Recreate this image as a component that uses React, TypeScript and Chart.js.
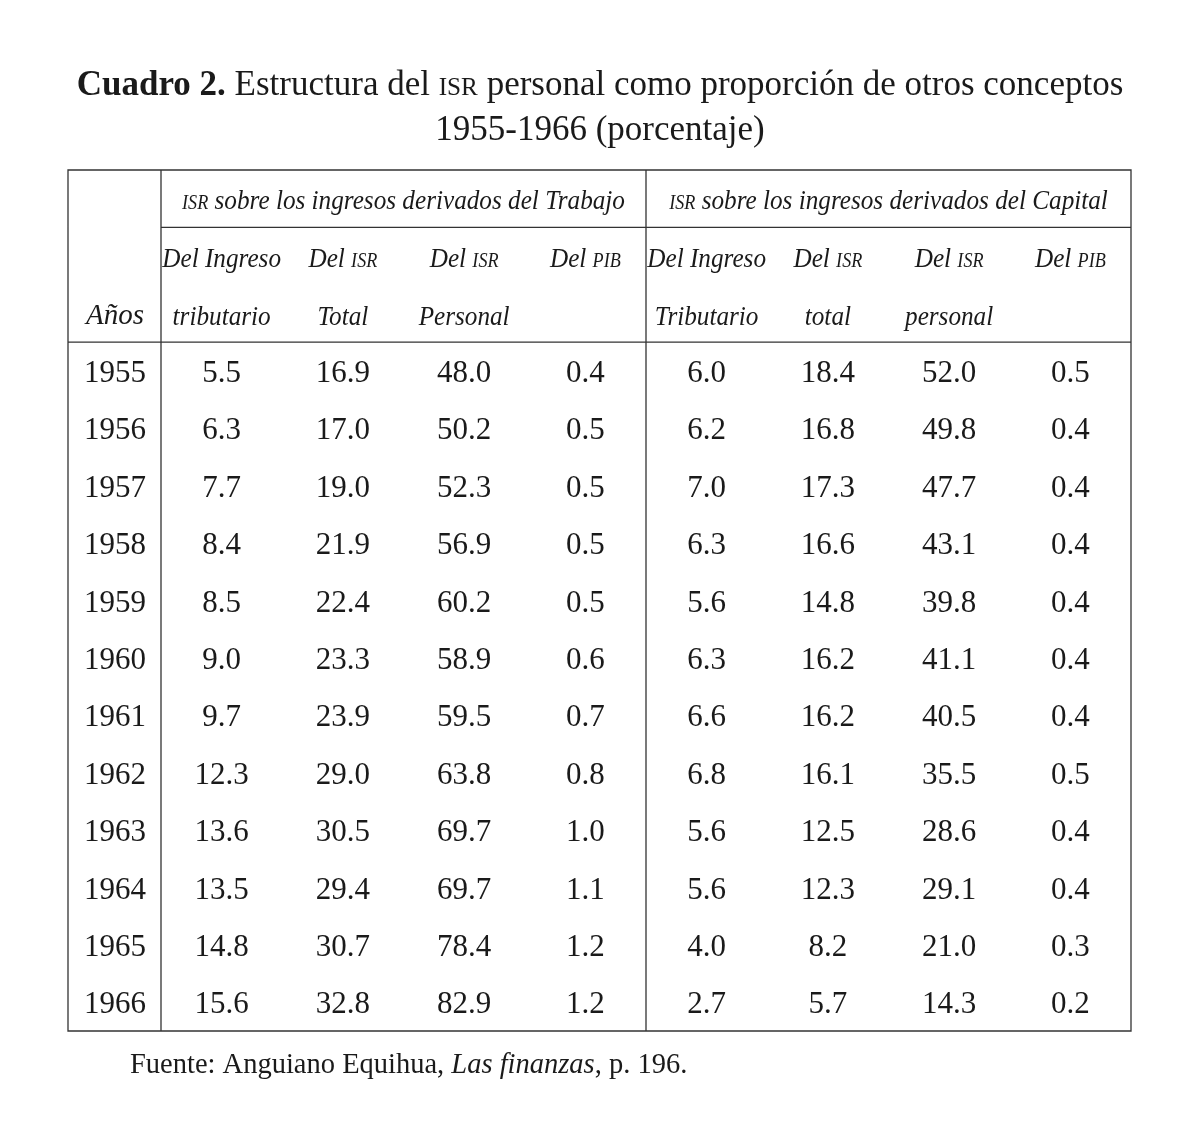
import { useEffect, useRef } from 'react';
import { Chart, registerables } from 'chart.js';

Chart.register(...registerables);

// ---------- data ----------
const YEARS = ['1955', '1956', '1957', '1958', '1959', '1960', '1961', '1962', '1963', '1964', '1965', '1966'];
const HEADER_ROWS = [' ', '  ', 'Años'];
const ROW_LABELS = [...HEADER_ROWS, ...YEARS];

const COLUMN_KEYS = ['t1', 't2', 't3', 't4', 'c1', 'c2', 'c3', 'c4'];

const GROUP_TITLES = ['ISR sobre los ingresos derivados del Trabajo', 'ISR sobre los ingresos derivados del Capital'];
const SUBHEAD_LINE1 = ['Del Ingreso', 'Del ISR', 'Del ISR', 'Del PIB', 'Del Ingreso', 'Del ISR', 'Del ISR', 'Del PIB'];
const SUBHEAD_LINE2 = ['tributario', 'Total', 'Personal', '', 'Tributario', 'total', 'personal', ''];

const TRABAJO_INGRESO = [5.5, 6.3, 7.7, 8.4, 8.5, 9.0, 9.7, 12.3, 13.6, 13.5, 14.8, 15.6];
const TRABAJO_ISR_TOTAL = [16.9, 17.0, 19.0, 21.9, 22.4, 23.3, 23.9, 29.0, 30.5, 29.4, 30.7, 32.8];
const TRABAJO_ISR_PERSONAL = [48.0, 50.2, 52.3, 56.9, 60.2, 58.9, 59.5, 63.8, 69.7, 69.7, 78.4, 82.9];
const TRABAJO_PIB = [0.4, 0.5, 0.5, 0.5, 0.5, 0.6, 0.7, 0.8, 1.0, 1.1, 1.2, 1.2];
const CAPITAL_INGRESO = [6.0, 6.2, 7.0, 6.3, 5.6, 6.3, 6.6, 6.8, 5.6, 5.6, 4.0, 2.7];
const CAPITAL_ISR_TOTAL = [18.4, 16.8, 17.3, 16.6, 14.8, 16.2, 16.2, 16.1, 12.5, 12.3, 8.2, 5.7];
const CAPITAL_ISR_PERSONAL = [52.0, 49.8, 47.7, 43.1, 39.8, 41.1, 40.5, 35.5, 28.6, 29.1, 21.0, 14.3];
const CAPITAL_PIB = [0.5, 0.4, 0.4, 0.4, 0.4, 0.4, 0.4, 0.5, 0.4, 0.4, 0.3, 0.2];

const SERIES = [
  TRABAJO_INGRESO, TRABAJO_ISR_TOTAL, TRABAJO_ISR_PERSONAL, TRABAJO_PIB,
  CAPITAL_INGRESO, CAPITAL_ISR_TOTAL, CAPITAL_ISR_PERSONAL, CAPITAL_PIB,
];

const TITLE_BOLD = 'Cuadro 2.';
const TITLE_REST = ' Estructura del ISR personal como proporción de otros conceptos';
const TITLE_LINE2 = '1955-1966 (porcentaje)';
const SOURCE_PREFIX = 'Fuente: Anguiano Equihua, ';
const SOURCE_ITALIC = 'Las finanzas';
const SOURCE_SUFFIX = ', p. 196.';

// ---------- style ----------
const FONT = '"Liberation Serif", "Times New Roman", serif';
const INK = '#1a1a1a';
const RULE = '#333333';
const SMALL_CAPS_RATIO = 0.72;
const ITALIC_SIZE = 28;
const ITALIC_CONDENSE = 0.9;

type Seg = { text: string; size: number; style?: string; weight?: string };

function splitSmallCaps(text: string, size: number, style = 'normal', weight = 'normal'): Seg[] {
  const parts = text.split(/(ISR|PIB)/);
  return parts
    .filter((p) => p.length > 0)
    .map((p) =>
      p === 'ISR' || p === 'PIB'
        ? { text: p, size: size * SMALL_CAPS_RATIO, style, weight }
        : { text: p, size, style, weight }
    );
}

function fontOf(s: Seg) {
  return `${s.style || 'normal'} ${s.weight || 'normal'} ${s.size}px ${FONT}`;
}

function drawRich(
  ctx: CanvasRenderingContext2D,
  segs: Seg[],
  x: number,
  y: number,
  align: 'left' | 'center',
  hScale = 1
) {
  let total = 0;
  const widths = segs.map((s) => {
    ctx.font = fontOf(s);
    const w = ctx.measureText(s.text).width;
    total += w;
    return w;
  });
  const start = align === 'center' ? x - (total * hScale) / 2 : x;
  ctx.save();
  ctx.translate(start, y);
  ctx.scale(hScale, 1);
  ctx.textAlign = 'left';
  ctx.textBaseline = 'alphabetic';
  let cx = 0;
  segs.forEach((s, i) => {
    ctx.font = fontOf(s);
    ctx.fillText(s.text, cx, 0);
    cx += widths[i];
  });
  ctx.restore();
}

const tablePlugin = {
  id: 'tablePlugin',
  afterDraw(chart: any) {
    const ctx: CanvasRenderingContext2D = chart.ctx;
    const xs = chart.scales.x;
    const ys = chart.scales.y;
    const area = chart.chartArea;
    const left = ys.left;
    const right = area.right;
    const top = area.top;
    const bottom = area.bottom;
    const divider = (xs.getPixelForValue(3) + xs.getPixelForValue(4)) / 2;
    const rowGap01 = (ys.getPixelForValue(0) + ys.getPixelForValue(1)) / 2;
    const rowGap23 = (ys.getPixelForValue(2) + ys.getPixelForValue(3)) / 2;

    ctx.save();
    // rules
    ctx.strokeStyle = RULE;
    ctx.lineWidth = 1.3;
    ctx.beginPath();
    ctx.rect(left, top, right - left, bottom - top);
    ctx.moveTo(area.left, top);
    ctx.lineTo(area.left, bottom);
    ctx.moveTo(divider, top);
    ctx.lineTo(divider, bottom);
    ctx.moveTo(area.left, rowGap01);
    ctx.lineTo(right, rowGap01);
    ctx.moveTo(left, rowGap23);
    ctx.lineTo(right, rowGap23);
    ctx.stroke();

    ctx.fillStyle = INK;
    const base = 10; // baseline offset from row centre for italic headers

    // group headers
    const groupCenters = [(area.left + divider) / 2, (divider + right) / 2];
    GROUP_TITLES.forEach((t, i) => {
      drawRich(ctx, splitSmallCaps(t, ITALIC_SIZE, 'italic'), groupCenters[i], ys.getPixelForValue(0) + base, 'center', ITALIC_CONDENSE);
    });
    // sub headers
    COLUMN_KEYS.forEach((_, c) => {
      const x = xs.getPixelForValue(c);
      drawRich(ctx, splitSmallCaps(SUBHEAD_LINE1[c], ITALIC_SIZE, 'italic'), x, ys.getPixelForValue(1) + base + 1, 'center', ITALIC_CONDENSE);
      if (SUBHEAD_LINE2[c]) {
        drawRich(ctx, splitSmallCaps(SUBHEAD_LINE2[c], ITALIC_SIZE, 'italic'), x, ys.getPixelForValue(2) + base + 1, 'center', ITALIC_CONDENSE);
      }
    });

    // values
    ctx.font = `normal 31px ${FONT}`;
    ctx.textAlign = 'center';
    ctx.textBaseline = 'alphabetic';
    chart.data.datasets.forEach((ds: any, di: number) => {
      const meta = chart.getDatasetMeta(di);
      meta.data.forEach((pt: any, i: number) => {
        ctx.fillText(ds.values[i].toFixed(1), pt.x, pt.y + 11);
      });
    });

    // title
    const cx = chart.width / 2;
    drawRich(
      ctx,
      [{ text: TITLE_BOLD, size: 35, weight: 'bold' }, ...splitSmallCaps(TITLE_REST, 35)],
      cx, 95, 'center'
    );
    drawRich(ctx, [{ text: TITLE_LINE2, size: 35 }], cx, 140, 'center');

    // source
    drawRich(
      ctx,
      [
        { text: SOURCE_PREFIX, size: 28.5 },
        { text: SOURCE_ITALIC, size: 28.5, style: 'italic' },
        { text: SOURCE_SUFFIX, size: 28.5 },
      ],
      130, 1073, 'left'
    );
    ctx.restore();
  },
};

export default function App() {
  const ref = useRef<HTMLCanvasElement | null>(null);

  useEffect(() => {
    document.body.style.margin = '0';
    document.body.style.background = '#ffffff';
    if (!ref.current) return;
    const chart = new Chart(ref.current, {
      type: 'line',
      data: {
        datasets: SERIES.map((vals, c) => ({
          label: COLUMN_KEYS[c],
          data: YEARS.map((yr) => ({ x: COLUMN_KEYS[c], y: yr })),
          values: vals,
          showLine: false,
          pointRadius: 0,
          pointHoverRadius: 0,
        })) as any,
      },
      options: {
        animation: false,
        responsive: true,
        maintainAspectRatio: false,
        events: [],
        layout: { padding: { left: 68, top: 170, right: 69, bottom: 117 } },
        plugins: { legend: { display: false }, tooltip: { enabled: false }, title: { display: false } },
        scales: {
          x: { type: 'category', labels: COLUMN_KEYS, offset: true, display: false },
          y: {
            type: 'category',
            labels: ROW_LABELS,
            offset: true,
            position: 'left',
            grid: { display: false, drawTicks: false },
            border: { display: false },
            ticks: {
              autoSkip: false,
              crossAlign: 'center',
              padding: 15,
              labelOffset: 3,
              color: INK,
              font: (c: any) =>
                c.index === 2
                  ? { family: FONT, size: 29, style: 'italic' }
                  : { family: FONT, size: 31, style: 'normal' },
            },
            afterFit: (s: any) => {
              s.width = 93;
            },
          },
        },
      } as any,
      plugins: [tablePlugin],
    });
    return () => chart.destroy();
  }, []);

  return (
    <div style={{ width: 1200, height: 1148, position: 'relative', background: '#fff' }}>
      <canvas ref={ref} />
    </div>
  );
}
